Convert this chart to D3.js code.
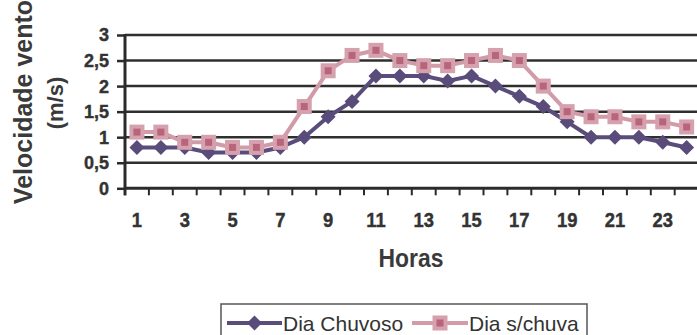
<!DOCTYPE html>
<html>
<head>
<meta charset="utf-8">
<script src="https://cdn.jsdelivr.net/npm/d3@7"></script>
<style>
  html, body { margin: 0; padding: 0; background: #fff; overflow: hidden; }
  svg { display: block; font-family: "Liberation Sans", Arial, sans-serif; }
</style>
</head>
<body>
<svg id="chart" width="697" height="335"></svg>
<script>
// Hourly mean wind speed (m/s) on rainy vs. dry days
const horas = d3.range(1, 25).map(String);
const diaChuvoso = [0.8, 0.8, 0.8, 0.7, 0.7, 0.7, 0.8, 1.0, 1.4, 1.7, 2.2, 2.2,
                    2.2, 2.1, 2.2, 2.0, 1.8, 1.6, 1.3, 1.0, 1.0, 1.0, 0.9, 0.8];
const diaSemChuva = [1.1, 1.1, 0.9, 0.9, 0.8, 0.8, 0.9, 1.6, 2.3, 2.6, 2.7, 2.5,
                     2.4, 2.4, 2.5, 2.6, 2.5, 2.0, 1.5, 1.4, 1.4, 1.3, 1.3, 1.2];
const yTicks = [0, 0.5, 1, 1.5, 2, 2.5, 3];
const xLabelTicks = horas.filter((d, i) => i % 2 === 0);

const series = [
  { name: "Dia Chuvoso", values: diaChuvoso, line: "#5a4d7b", marker: "diamond" },
  { name: "Dia s/chuva", values: diaSemChuva, line: "#d29ba8", marker: "square" }
];

const svg = d3.select("#chart");
const plotLeft = 125, plotTop = 35, plotBottom = 188.3, bandW = 23.9;
const plotRight = plotLeft + bandW * horas.length;

const x = d3.scaleBand().domain(horas).range([plotLeft, plotRight]).padding(0);
const xb = d3.scaleLinear().domain([0, horas.length]).range([plotLeft, plotRight]);
const y = d3.scaleLinear().domain([0, 3]).range([plotBottom, plotTop]);
const cx = d => x(d) + x.bandwidth() / 2;

const ptBR = d3.formatLocale({ decimal: ",", thousands: ".", grouping: [3], currency: ["R$", ""] });
const fmt = v => (v === 0 ? "0" : ptBR.format("~g")(v));

// horizontal gridlines
svg.append("g").selectAll("line").data(yTicks.filter(v => v > 0)).join("line")
  .attr("x1", plotLeft).attr("x2", 697)
  .attr("y1", d => y(d)).attr("y2", d => y(d))
  .attr("stroke", "#2f2f2f").attr("stroke-width", 2.5);

// y axis
const yAxis = svg.append("g").attr("transform", `translate(${plotLeft},0)`)
  .call(d3.axisLeft(y).tickValues(yTicks).tickSize(8).tickFormat(() => ""));
yAxis.select(".domain").remove();
yAxis.selectAll(".tick line").attr("stroke", "#2a2a2a").attr("stroke-width", 2.5);
svg.append("line").attr("x1", plotLeft).attr("x2", plotLeft)
  .attr("y1", plotTop - 1).attr("y2", plotBottom + 7)
  .attr("stroke", "#2a2a2a").attr("stroke-width", 3);

svg.append("g").selectAll("text").data(yTicks).join("text")
  .attr("x", 109).attr("y", d => y(d))
  .attr("dy", "0.36em").attr("text-anchor", "end")
  .attr("font-size", 18).attr("font-weight", "bold").attr("fill", "#333")
  .attr("stroke", "#333").attr("stroke-width", 0.4)
  .text(fmt);

// x axis
svg.append("line").attr("x1", plotLeft - 1).attr("x2", 697)
  .attr("y1", plotBottom).attr("y2", plotBottom)
  .attr("stroke", "#2a2a2a").attr("stroke-width", 3);
svg.append("g").selectAll("line").data(d3.range(0, horas.length + 1)).join("line")
  .attr("x1", d => xb(d)).attr("x2", d => xb(d))
  .attr("y1", plotBottom).attr("y2", plotBottom + 7)
  .attr("stroke", "#2a2a2a").attr("stroke-width", 2);

svg.append("g").selectAll("text").data(xLabelTicks).join("text")
  .attr("transform", d => `translate(${cx(d)},219.5) scale(0.92,1)`)
  .attr("dy", "0.36em").attr("text-anchor", "middle")
  .attr("font-size", 20).attr("font-weight", "bold").attr("fill", "#333")
  .attr("stroke", "#333").attr("stroke-width", 0.4)
  .text(d => d);

// axis titles
svg.append("text")
  .attr("transform", "translate(411,258) scale(0.88,1)")
  .attr("dy", "0.36em").attr("text-anchor", "middle")
  .attr("font-size", 26).attr("font-weight", "bold").attr("fill", "#3a3a3a")
  .text("Horas");

svg.append("text")
  .attr("transform", "translate(23,102) rotate(-90)")
  .attr("dy", "0.36em").attr("text-anchor", "middle")
  .attr("font-size", 25).attr("font-weight", "bold").attr("fill", "#3a3a3a")
  .text("Velocidade vento");
svg.append("text")
  .attr("transform", "translate(55,103) rotate(-90)")
  .attr("dy", "0.36em").attr("text-anchor", "middle")
  .attr("font-size", 22).attr("font-weight", "bold").attr("fill", "#3a3a3a")
  .text("(m/s)");

// markers
function drawMarker(g, type, px, py, size) {
  if (type === "diamond") {
    g.append("path")
      .attr("d", `M${px},${py - size}L${px + size},${py}L${px},${py + size}L${px - size},${py}Z`)
      .attr("fill", "#594c7a");
  } else {
    g.append("rect")
      .attr("x", px - size).attr("y", py - size)
      .attr("width", size * 2).attr("height", size * 2)
      .attr("fill", "#b8647b").attr("stroke", "#d6a1ae").attr("stroke-width", 4);
  }
}

const line = d3.line().x((v, i) => cx(horas[i])).y(v => y(v));

series.forEach(s => {
  const g = svg.append("g");
  g.append("path").attr("d", line(s.values))
    .attr("fill", "none").attr("stroke", s.line).attr("stroke-width", 4)
    .attr("stroke-linejoin", "round");
  s.values.forEach((v, i) => {
    drawMarker(g, s.marker, cx(horas[i]), y(v), s.marker === "diamond" ? 7.5 : 5.5);
  });
});

// legend
const lg = svg.append("g");
lg.append("rect").attr("x", 221).attr("y", 304).attr("width", 366).attr("height", 50)
  .attr("fill", "#fff").attr("stroke", "#555").attr("stroke-width", 1.5);
const legendItems = [
  { s: series[0], x0: 227, x1: 282, tx: 283 },
  { s: series[1], x0: 412, x1: 468, tx: 469 }
];
legendItems.forEach(it => {
  const ly = 323;
  lg.append("line").attr("x1", it.x0).attr("x2", it.x1).attr("y1", ly).attr("y2", ly)
    .attr("stroke", it.s.line).attr("stroke-width", 4);
  drawMarker(lg, it.s.marker, (it.x0 + it.x1) / 2, ly, it.s.marker === "diamond" ? 7.5 : 5.5);
  lg.append("text").attr("x", it.tx).attr("y", ly).attr("dy", "0.36em")
    .attr("font-size", 21).attr("fill", "#333").text(it.s.name);
});
</script>
</body>
</html>
